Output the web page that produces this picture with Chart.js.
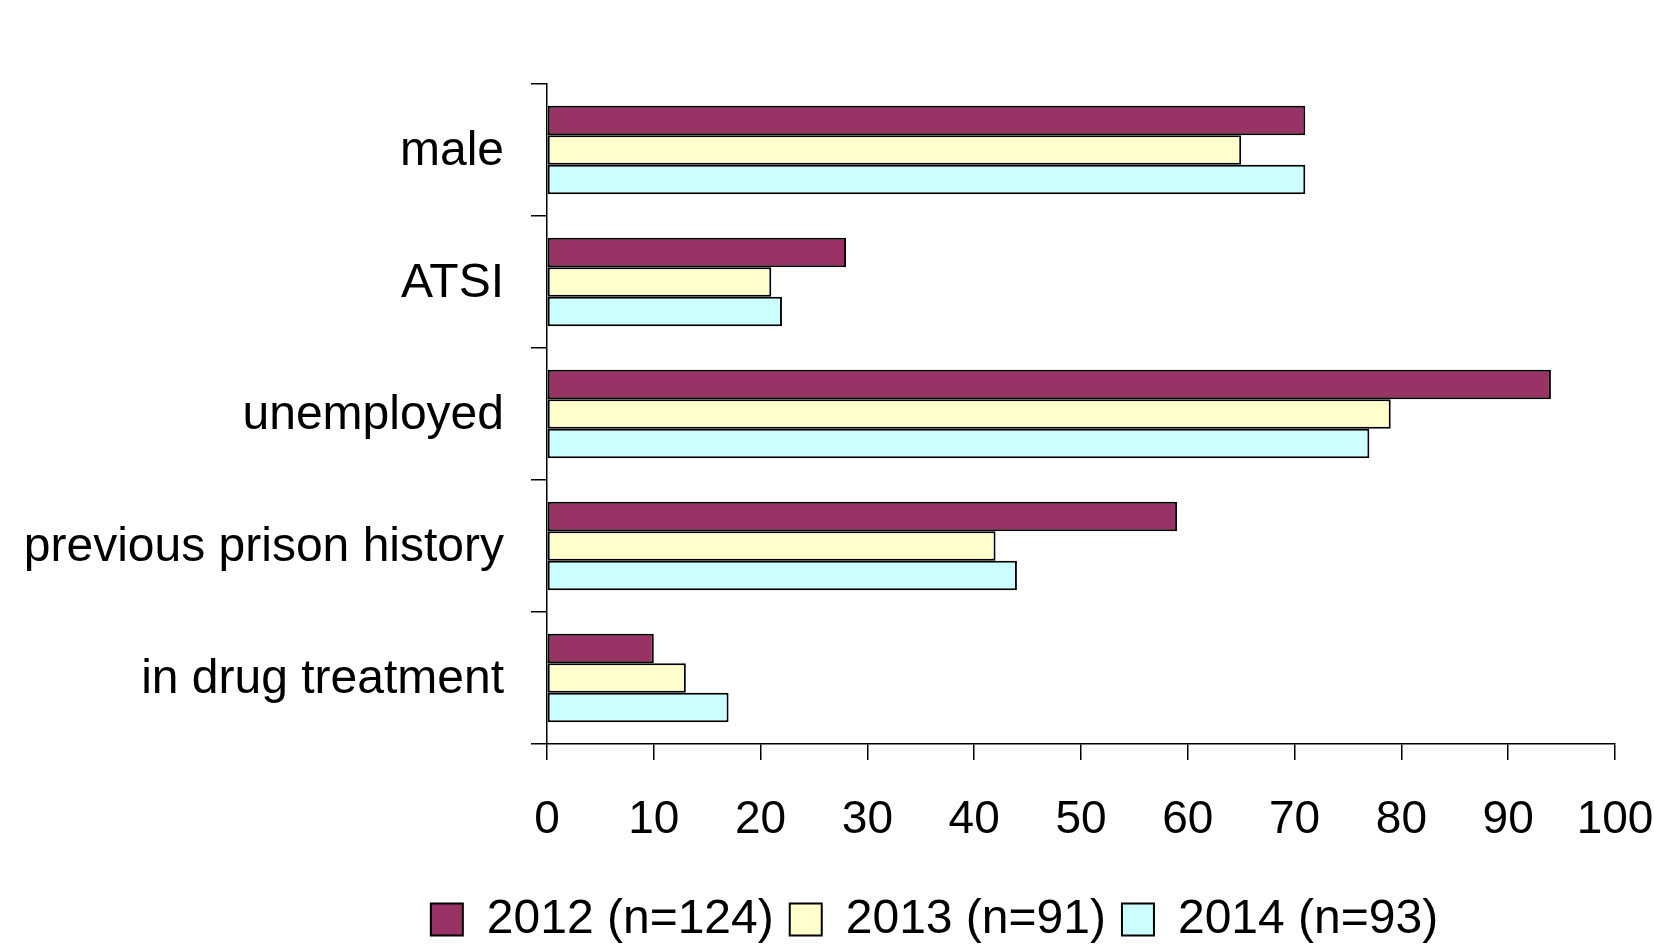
<!DOCTYPE html>
<html>
<head>
<meta charset="utf-8">
<script src="https://cdn.jsdelivr.net/npm/chart.js@4.4.1/dist/chart.umd.min.js"></script>
<style>
  html, body { margin: 0; padding: 0; background: #ffffff; }
  #wrap { width: 1654px; height: 946px; position: relative; }
</style>
</head>
<body>
<div id="wrap"><canvas id="c" width="1654" height="946"></canvas></div>
<script>
const categories = ["male", "ATSI", "unemployed", "previous prison history", "in drug treatment"];
const seriesNames = ["2012 (n=124)", "2013 (n=91)", "2014 (n=93)"];
const values2012 = [71, 28, 94, 59, 10];
const values2013 = [65, 21, 79, 42, 13];
const values2014 = [71, 22, 77, 44, 17];
const seriesColors = ["#993366", "#FFFFCC", "#CCFFFF"];
const xTicks = [0, 10, 20, 30, 40, 50, 60, 70, 80, 90, 100];

const FONT = "'Liberation Sans', Arial, sans-serif";

const allValues = [values2012, values2013, values2014];
const datasets = allValues.map((vals, i) => ({
  label: seriesNames[i],
  data: vals,
  backgroundColor: seriesColors[i],
  borderColor: "#000000",
  borderWidth: 2,
  borderSkipped: false,
  categoryPercentage: 0.67,
  barPercentage: 1.0
}));

// shift the legend so it sits where the reference places it
const legendShift = {
  id: "legendShift",
  afterLayout(chart) {
    const lg = chart.legend;
    if (lg) { lg.left += 127; lg.right += 127; }
  }
};

new Chart(document.getElementById("c"), {
  type: "bar",
  data: { labels: categories, datasets: datasets },
  plugins: [legendShift],
  options: {
    indexAxis: "y",
    responsive: false,
    animation: false,
    devicePixelRatio: 1,
    layout: { padding: { top: 84, left: 0, right: 39, bottom: -7.5 } },
    plugins: {
      title: { display: false },
      tooltip: { enabled: false },
      legend: {
        position: "bottom",
        labels: {
          color: "#000000",
          font: { family: FONT, size: 48 },
          boxWidth: 32,
          boxHeight: 32,
          padding: 16
        }
      }
    },
    scales: {
      x: {
        min: 0,
        max: 100,
        afterBuildTicks: (scale) => { scale.ticks = xTicks.map(v => ({ value: v })); },
        afterFit: (scale) => { scale.paddingLeft = 0; scale.paddingRight = 0; scale.height = 135.5; },
        ticks: {
          color: "#000000",
          font: { family: FONT, size: 46 },
          padding: 33,
          maxRotation: 0,
          autoSkip: false
        },
        grid: {
          drawOnChartArea: false,
          drawTicks: true,
          tickLength: 16,
          color: "#000000",
          lineWidth: 1.5
        },
        border: { display: true, color: "#000000", width: 1.5 }
      },
      y: {
        afterFit: (scale) => { scale.width = 547; },
        ticks: {
          color: "#000000",
          font: { family: FONT, size: 48 },
          padding: 27,
          labelOffset: 2,
          autoSkip: false
        },
        grid: {
          offset: true,
          drawOnChartArea: false,
          drawTicks: true,
          tickLength: 16,
          color: "#000000",
          lineWidth: 1.5
        },
        border: { display: true, color: "#000000", width: 1.5 }
      }
    }
  }
});
</script>
</body>
</html>
